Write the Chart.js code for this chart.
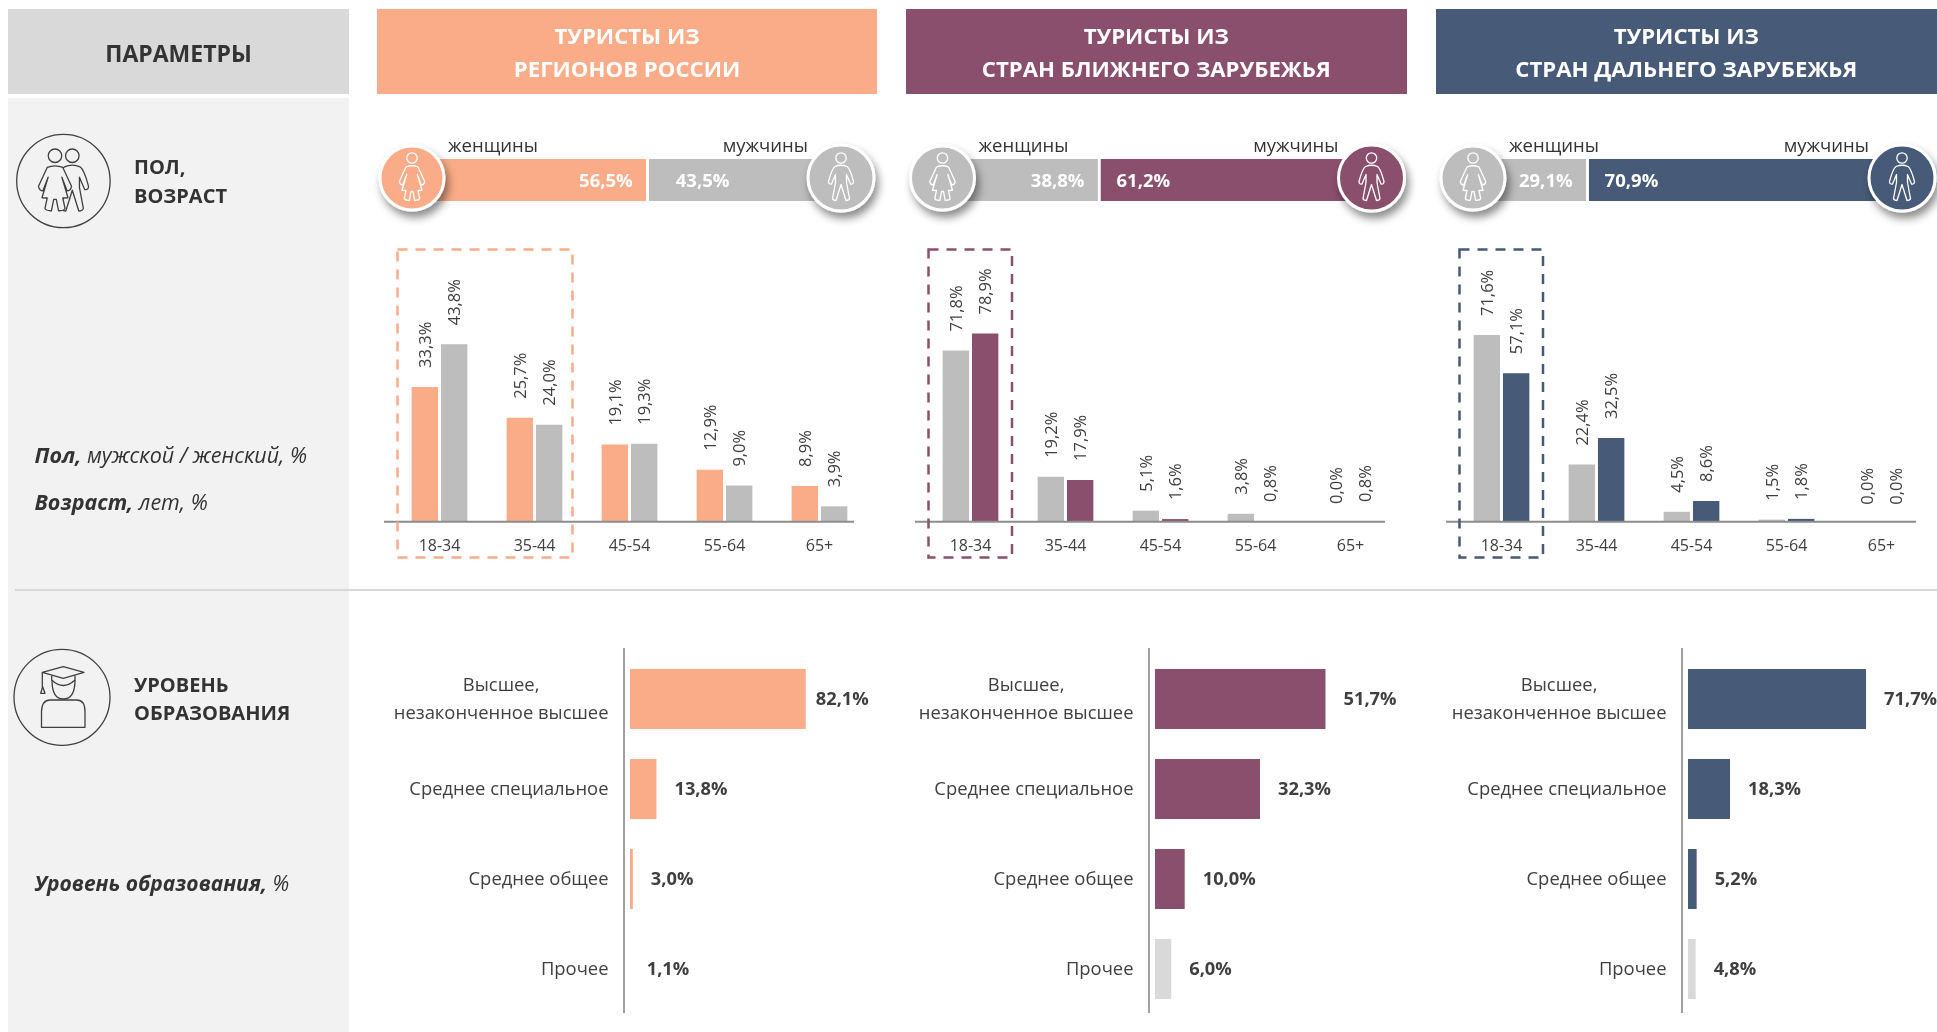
<!DOCTYPE html>
<html lang="ru">
<head>
<meta charset="utf-8">
<title>Туристы</title>
<script src="https://cdn.jsdelivr.net/npm/chart.js@4"></script>
<style>
    html, body { margin: 0; padding: 0; background: #fff; }
    body { position: relative; width: 1937px; height: 1032px; overflow: hidden; font-family: "Open Sans", sans-serif; color: #404040; }
    .box, canvas, svg, .txt { position: absolute; }
    .txt { white-space: nowrap; line-height: 1; }
</style>
</head>
<body>
<script>
// Данные
const columnTitles = [["ТУРИСТЫ ИЗ", "РЕГИОНОВ РОССИИ"], ["ТУРИСТЫ ИЗ", "СТРАН БЛИЖНЕГО ЗАРУБЕЖЬЯ"], ["ТУРИСТЫ ИЗ", "СТРАН ДАЛЬНЕГО ЗАРУБЕЖЬЯ"]];
const genderWomen = [56.5, 38.8, 29.1];
const genderMen = [43.5, 61.2, 70.9];
const ageLabels = ["18-34", "35-44", "45-54", "55-64", "65+"];
const ageWomen = [
    [33.3, 25.7, 19.1, 12.9, 8.9],
    [71.8, 19.2, 5.1, 3.8, 0.0],
    [71.6, 22.4, 4.5, 1.5, 0.0]
];
const ageMen = [
    [43.8, 24.0, 19.3, 9.0, 3.9],
    [78.9, 17.9, 1.6, 0.8, 0.8],
    [57.1, 32.5, 8.6, 1.8, 0.0]
];
const eduLabels = [["Высшее,", "незаконченное высшее"], ["Среднее специальное"], ["Среднее общее"], ["Прочее"]];
const eduValues = [
    [82.1, 13.8, 3.0, 1.1],
    [51.7, 32.3, 10.0, 6.0],
    [71.7, 18.3, 5.2, 4.8]
];

// Оформление
const FONT = '"Open Sans", sans-serif';
const PEACH = "#FAAC88", PLUM = "#8B4F6E", NAVY = "#475A78", GRAY = "#BDBDBD", LIGHT = "#D9D9D9", INK = "#404040", PANEL = "#F2F2F2";
const accent = [PEACH, PLUM, NAVY];
const headerX = [377, 905.5, 1435.5];
const headerW = [500, 501.5, 501.5];
const genderShift = [0, 530.5, 1061];
const ageShift = [0, 531, 1062];
const eduShift = [0, 525, 1058];
// оси в оригинале начинаются не с нуля
const ageMin = [0.28, 0.8, 1];
const ageMax = [71.46, 121.2, 110.7];
const eduMin = [1.7, 1.2, 1.8];
const eduPxPerUnit = [2.186, 3.376, 2.547];
const eduGap = [[10, 18, 18, 18], [18, 18, 18, 18], [18, 18, 18, 18]];
const menLabelGap = [27, 16, 16];

function addBox(x, y, w, h, color) {
    const d = document.createElement("div");
    d.className = "box";
    d.style.cssText = `left:${x}px;top:${y}px;width:${w}px;height:${h}px;background:${color}`;
    document.body.appendChild(d);
}

function addText(text, x, y, css, anchor) {
    const d = document.createElement("div");
    d.className = "txt";
    d.innerHTML = text;
    const tx = anchor === "center" ? "-50%" : anchor === "right" ? "-100%" : "0";
    d.style.cssText = `left:${x}px;top:${y}px;transform:translate(${tx},-50%);z-index:5;${css}`;
    document.body.appendChild(d);
}

function addCanvas(x, y, w, h) {
    const c = document.createElement("canvas");
    c.width = w;
    c.height = h;
    c.style.cssText = `left:${x}px;top:${y}px;width:${w}px;height:${h}px`;
    document.body.appendChild(c);
    return c.getContext("2d");
}

const pct = v => v.toFixed(1).replace(".", ",") + "%";
const base = { responsive: false, animation: false, events: [], plugins: { legend: { display: false }, tooltip: { enabled: false } } };

// Фон и шапка
addBox(8, 9, 341, 85, LIGHT);
addBox(8, 98, 341, 934, PANEL);
addBox(15, 589, 1922, 2, LIGHT);
addText("ПАРАМЕТРЫ", 178.5, 52.5, "font-size:23px;font-weight:700;color:#333", "center");
columnTitles.forEach((lines, i) => {
    addBox(headerX[i], 9, headerW[i], 85, accent[i]);
    const cx = headerX[i] + headerW[i] / 2;
    addText(lines[0], cx, 36, "font-size:22.2px;font-weight:700;color:#fff", "center");
    addText(lines[1], cx, 68.5, "font-size:22.2px;font-weight:700;color:#fff", "center");
});

addText("ПОЛ,", 134, 167, "font-size:20px;font-weight:700;color:#333");
addText("ВОЗРАСТ", 134, 195.5, "font-size:20px;font-weight:700;color:#333");
addText("УРОВЕНЬ", 134, 685, "font-size:20px;font-weight:700;color:#333");
addText("ОБРАЗОВАНИЯ", 134, 713, "font-size:20px;font-weight:700;color:#333");
addText("<b>Пол,</b> мужской / женский, %", 34.5, 454.5, "font-size:21.5px;font-style:italic;color:#333");
addText("<b>Возраст,</b> лет, %", 34.5, 501.5, "font-size:21.5px;font-style:italic;color:#333");
addText("<b>Уровень образования,</b> %", 34.5, 883, "font-size:21px;font-style:italic;color:#333");

// Пол: полоса женщины / мужчины
columnTitles.forEach((_, i) => {
    const ctx = addCanvas(398.5 + genderShift[i], 159, 442, 42);
    const womenColor = i === 0 ? PEACH : GRAY;
    const menColor = i === 0 ? GRAY : accent[i];
    new Chart(ctx, {
        type: "bar",
        data: {
            labels: ["пол"],
            datasets: [
                { data: [genderWomen[i]], backgroundColor: womenColor, borderColor: "#fff", borderWidth: { right: 3 }, borderSkipped: false },
                { data: [genderMen[i]], backgroundColor: menColor, borderWidth: 0 }
            ]
        },
        options: {
            ...base,
            indexAxis: "y",
            layout: { padding: 0 },
            datasets: { bar: { categoryPercentage: 1, barPercentage: 1 } },
            scales: {
                x: { display: false, stacked: true, min: 0, max: 100 },
                y: { display: false, stacked: true }
            }
        },
        plugins: [{
            id: "genderValues",
            afterDatasetsDraw(chart) {
                const c = chart.ctx;
                const w = chart.getDatasetMeta(0).data[0];
                c.save();
                c.font = `700 18.5px ${FONT}`;
                c.fillStyle = "#fff";
                c.textBaseline = "middle";
                c.textAlign = "right";
                c.fillText(pct(genderWomen[i]), w.x - 16, w.y + 2);
                c.textAlign = "left";
                c.fillText(pct(genderMen[i]), w.x + menLabelGap[i], w.y + 2);
                c.restore();
            }
        }]
    });
    addText("женщины", 448 + genderShift[i], 145, "font-size:18.5px;color:#333");
    addText("мужчины", 808 + genderShift[i], 145, "font-size:18.5px;color:#333", "right");
});

// Возраст: сгруппированные столбики
columnTitles.forEach((_, i) => {
    const left = 384 + ageShift[i];
    const ctx = addCanvas(left, 232, 483, 333);
    new Chart(ctx, {
        type: "bar",
        data: {
            labels: ageLabels,
            datasets: [
                { data: ageWomen[i], backgroundColor: i === 0 ? PEACH : GRAY },
                { data: ageMen[i], backgroundColor: i === 0 ? GRAY : accent[i] }
            ]
        },
        options: {
            ...base,
            layout: { padding: { left: 8 } },
            datasets: { bar: { categoryPercentage: 0.6175, barPercentage: 0.9 } },
            scales: {
                x: {
                    grid: { display: false, drawTicks: false },
                    border: { display: false },
                    afterFit(axis) { axis.height = 44; },
                    ticks: { color: INK, font: { family: FONT, size: 16 }, padding: 16, maxRotation: 0 }
                },
                y: { display: false, min: ageMin[i], max: ageMax[i] }
            }
        },
        plugins: [{
            id: "ageValues",
            afterDatasetsDraw(chart) {
                const c = chart.ctx;
                const x = chart.scales.x;
                c.save();
                c.strokeStyle = "#8C8C8C";
                c.lineWidth = 2;
                c.beginPath();
                c.moveTo(x.left - 8, x.top + 0.8);
                c.lineTo(x.right - 13, x.top + 0.8);
                c.stroke();
                c.font = `16.5px ${FONT}`;
                c.fillStyle = INK;
                c.textAlign = "left";
                c.textBaseline = "middle";
                chart.data.datasets.forEach((ds, d) => {
                    chart.getDatasetMeta(d).data.forEach((bar, k) => {
                        c.save();
                        c.translate(bar.x + 1, bar.y - 19);
                        c.rotate(-Math.PI / 2);
                        c.fillText(pct(ds.data[k]), 0, 0);
                        c.restore();
                    });
                });
                c.restore();
            }
        }]
    });
});

// Уровень образования: горизонтальные столбики
columnTitles.forEach((_, i) => {
    const left = 384 + eduShift[i];
    const w = i === 2 ? 1937 - left : 496;
    const ctx = addCanvas(left, 648, w, 366);
    new Chart(ctx, {
        type: "bar",
        data: {
            labels: eduLabels.map(l => l.join(" ")),
            datasets: [{ data: eduValues[i], backgroundColor: [accent[i], accent[i], accent[i], LIGHT] }]
        },
        options: {
            ...base,
            indexAxis: "y",
            layout: { padding: { left: 246, top: 6 } },
            datasets: { bar: { categoryPercentage: 1, barPercentage: 0.667 } },
            scales: {
                x: { display: false, min: eduMin[i], max: eduMin[i] + (w - 246) / eduPxPerUnit[i] },
                y: { display: false }
            }
        },
        plugins: [{
            id: "eduLabels",
            afterDatasetsDraw(chart) {
                const c = chart.ctx;
                const y = chart.scales.y;
                const x0 = chart.scales.x.left;
                c.save();
                c.strokeStyle = "#808080";
                c.lineWidth = 1.5;
                c.beginPath();
                c.moveTo(x0 - 6, 0);
                c.lineTo(x0 - 6, chart.height - 1);
                c.stroke();
                c.textBaseline = "middle";
                chart.getDatasetMeta(0).data.forEach((bar, k) => {
                    const py = y.getPixelForTick(k);
                    c.font = `700 18.3px ${FONT}`;
                    c.fillStyle = INK;
                    c.textAlign = "left";
                    c.fillText(pct(eduValues[i][k]), bar.x + eduGap[i][k], py + 1);
                    // подпись категории: строки выровнены по центру между собой
                    const lines = eduLabels[k];
                    c.font = `18.4px ${FONT}`;
                    c.fillStyle = INK;
                    c.textAlign = "center";
                    const widest = Math.max(...lines.map(s => c.measureText(s).width));
                    const cx = x0 - 21.5 - widest / 2;
                    lines.forEach((s, n) => {
                        c.fillText(s, cx, py + 1 + (n - (lines.length - 1) / 2) * 28);
                    });
                });
                c.restore();
            }
        }]
    });
});

// Значки и пунктирные рамки
const woman = "M9,15.5 Q15,13 21,15.5 L27.7,30 Q27,33.5 24.3,33.5 L20.3,23 L25,38.8 L21,39 L22.7,47 Q22,49 17.7,48.8 L16,40 H14 L12.3,48.8 Q8,49 7.3,47 L9,39 L5,38.8 L9.7,23 L5.7,33.5 Q3,33.5 2.3,30 Z";
const man = "M9,15 Q15,12.5 21,15 Q24,17 27.5,30 Q27.5,33 24.5,32.5 L20.5,23 L20.5,31 L23.5,47 Q23,49 20,49 L15,33 L10,49 Q7,49 6.5,47 L9.5,31 L9.5,23 L5.5,32.5 Q2.5,33 2.5,30 Q6,17 9,15 Z";

function person(path, x, y, scale, stroke, fill) {
    return `<g transform="translate(${x},${y}) scale(${scale})" fill="${fill}" stroke="${stroke}" stroke-width="${1.3 / scale}" stroke-linejoin="round">
        <circle cx="15" cy="6.5" r="5.2"/><path d="${path}"/></g>`;
}

function badge(cx, cy, r, color, path) {
    return `<circle cx="${cx}" cy="${cy}" r="${r}" fill="${color}" stroke="#fff" stroke-width="3" filter="url(#sh)"/>` +
        person(path, cx - 15, cy - 26.5, 1, "#fff", "none");
}

let svg = `<svg width="1937" height="1032" style="left:0;top:0;z-index:3">
    <defs><filter id="sh" x="-30%" y="-30%" width="170%" height="170%"><feDropShadow dx="3" dy="6" stdDeviation="4" flood-color="#000" flood-opacity="0.45"/></filter></defs>`;

columnTitles.forEach((_, i) => {
    const s = genderShift[i];
    svg += badge(412 + s, 178, 32, i === 0 ? PEACH : GRAY, woman);
    svg += badge(841 + s, 178, 33, i === 0 ? GRAY : accent[i], man);
});
const dashW = [175, 83.5, 83.5];
columnTitles.forEach((_, i) => {
    svg += `<rect x="${397.5 + ageShift[i]}" y="249.5" width="${dashW[i]}" height="308" fill="none" stroke="${accent[i]}" stroke-width="2.5" stroke-dasharray="10 8"/>`;
});

svg += `<circle cx="63.4" cy="181" r="46.7" fill="none" stroke="#404040" stroke-width="1.3"/>`;
svg += person(man, 52.8, 147.3, 1.3, "#404040", PANEL) + person(woman, 35.5, 147.3, 1.3, "#404040", PANEL);
svg += `<circle cx="62" cy="697.3" r="48" fill="none" stroke="#404040" stroke-width="1.3"/>
    <g fill="none" stroke="#404040" stroke-width="1.3" stroke-linejoin="round">
        <path d="M41.5,727.3 V711.7 Q42,700 50,700 H76.7 Q85,700 85,711.7 V727.3 Z"/>
        <path d="M52,680 Q52,699 63.3,699 Q75,699 75,680"/>
        <path d="M51.7,675.7 V680 Q63.3,691 75,680 V675.7"/>
        <path d="M42.3,672.3 L63.3,666.7 L84,672.3 L63.3,678.3 Z"/>
        <path d="M42.3,672.3 V687.7 M40.7,693.3 H45 L42.7,686.7 Z"/>
    </g>`;
svg += "</svg>";
document.body.insertAdjacentHTML("beforeend", svg);
</script>
</body>
</html>
